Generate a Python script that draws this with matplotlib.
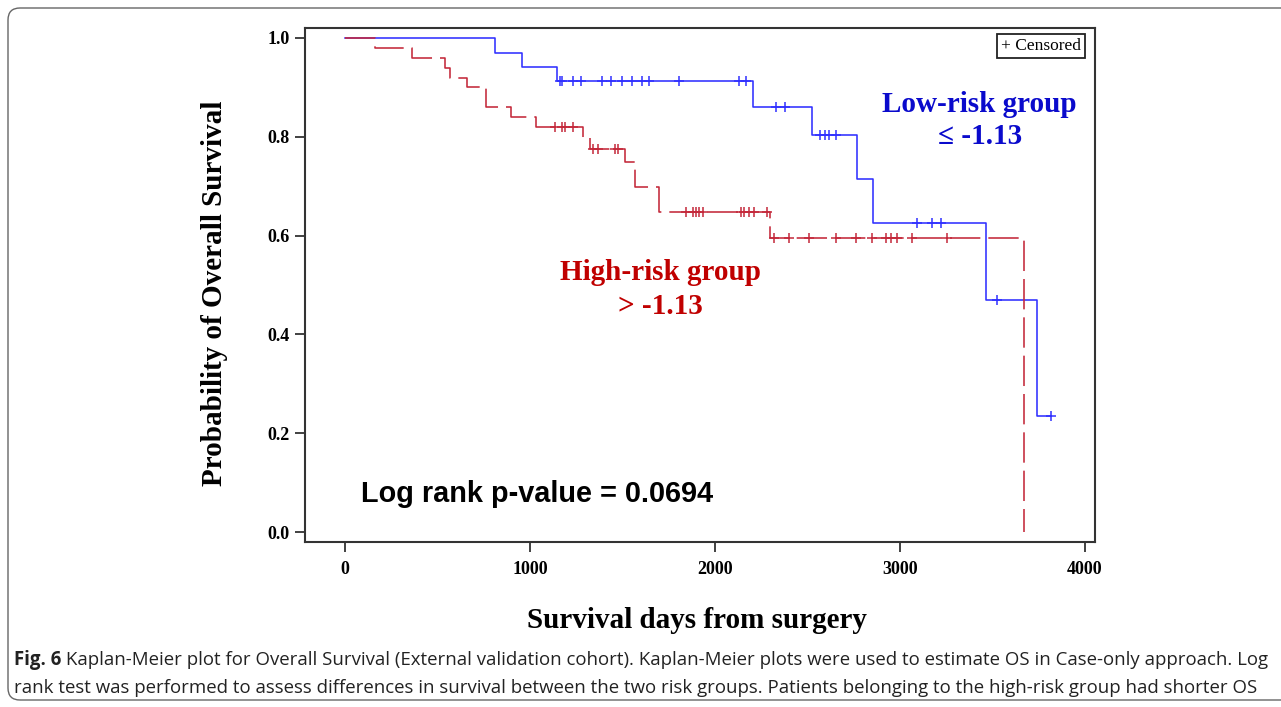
import matplotlib
matplotlib.use("Agg")
import matplotlib.pyplot as plt
import numpy as np
from matplotlib import font_manager
from matplotlib.patches import FancyBboxPatch
from matplotlib.transforms import IdentityTransform

# low-risk group (blue): KM steps
low_days = [0, 810, 955, 1144, 2208, 2526, 2769, 2856, 3466, 3741, 3816]
low_surv = [1.0, 0.970, 0.941, 0.913, 0.860, 0.804, 0.715, 0.626, 0.470, 0.235, 0.235]
low_censored = [1161, 1171, 1231, 1274, 1387, 1436, 1495, 1549, 1603, 1646, 1803,
                2132, 2165, 2332, 2381, 2569, 2596, 2618, 2656, 3093, 3174, 3223,
                3525, 3816]

# high-risk group (red, dashed)
high_days = [0, 162, 360, 540, 567, 659, 760, 900, 1030, 1285, 1323, 1511, 1565,
             1700, 2300, 3671]
high_surv = [1.0, 0.98, 0.96, 0.94, 0.92, 0.90, 0.86, 0.84, 0.82, 0.798, 0.775,
             0.749, 0.698, 0.647, 0.596, 0.0]
high_censored = [1134, 1171, 1187, 1231, 1339, 1366, 1457, 1474, 1846, 1879, 1900,
                 1916, 1933, 2143, 2159, 2186, 2213, 2283, 2321, 2402, 2510, 2656,
                 2764, 2850, 2926, 2953, 2985, 3066, 3255]

x_ticks = [0, 1000, 2000, 3000, 4000]
y_ticks = [0.0, 0.2, 0.4, 0.6, 0.8, 1.0]

caption_bold = "Fig. 6"
caption_1 = (" Kaplan-Meier plot for Overall Survival (External validation cohort). "
             "Kaplan-Meier plots were used to estimate OS in Case-only approach. Log")
caption_2 = ("rank test was performed to assess differences in survival between the two "
             "risk groups. Patients belonging to the high-risk group had shorter OS")

W, H = 1281, 707
BLUE = "#3030ff"
RED = "#c4283a"
SERIF = ["Liberation Serif", "DejaVu Serif"]

fig = plt.figure(figsize=(W / 100, H / 100), dpi=100)


def fx(px):
    return px / W


def fy(py):
    return 1 - py / H


def surv_at(days, surv, t):
    i = np.searchsorted(days, t, side="right") - 1
    return np.asarray(surv)[i]


ax = fig.add_axes([fx(305), fy(542), (1095 - 305) / W, (542 - 28) / H])

ax.step(low_days, low_surv, where="post", color=BLUE, lw=1.15)
ax.plot(low_censored, surv_at(low_days, low_surv, low_censored), ls="none",
        marker="+", ms=7, mew=1.1, color=BLUE)

ax.step(high_days, high_surv, where="post", color=RED, lw=1.15, ls=(0, (19, 5)))
ax.plot(high_censored, surv_at(high_days, high_surv, high_censored), ls="none",
        marker="+", ms=7, mew=1.1, color=RED)

ax.set_xlim(-216, 4054)
ax.set_ylim(-0.0202, 1.0202)
ax.set_xticks(x_ticks)
ax.set_yticks(y_ticks)
ax.set_xticklabels([str(v) for v in x_ticks], family=SERIF, weight="bold", fontsize=13)
ax.set_yticklabels([f"{v:.1f}" for v in y_ticks], family=SERIF, weight="bold", fontsize=13)
ax.tick_params(axis="both", direction="out", length=7, width=1.3, color="#333333")
ax.tick_params(axis="x", pad=7)
ax.tick_params(axis="y", pad=4)
for s in ax.spines.values():
    s.set_linewidth(1.5)
    s.set_color("#333333")

# axis titles
fig.text(fx(215), fy(293), "Probability of Overall Survival", rotation=90,
         ha="center", va="center", family=SERIF, weight="bold", fontsize=21)
fig.text(fx(697), fy(621), "Survival days from surgery", ha="center", va="center",
         family=SERIF, weight="bold", fontsize=21)

# group labels
fig.text(fx(979), fy(104), "Low-risk group", ha="center", va="center", color="#0a0acc",
         family=SERIF, weight="bold", fontsize=21)
fig.text(fx(980), fy(137), "\u2264 -1.13", ha="center", va="center", color="#0a0acc",
         family=SERIF, weight="bold", fontsize=21)
fig.text(fx(660), fy(273), "High-risk group", ha="center", va="center", color="#c00000",
         family=SERIF, weight="bold", fontsize=21)
fig.text(fx(660), fy(306), "> -1.13", ha="center", va="center", color="#c00000",
         family=SERIF, weight="bold", fontsize=21)

fig.text(fx(537), fy(494), "Log rank p-value = 0.0694", ha="center", va="center",
         family=["Liberation Sans", "DejaVu Sans"], weight="bold", fontsize=20.8)

# censored key box
fig.text(fx(1041), fy(46), "+ Censored", ha="center", va="center", family=SERIF,
         fontsize=12.5,
         bbox=dict(boxstyle="square,pad=0.25", fc="white", ec="#222222", lw=1.3))

# outer caption frame
frame = FancyBboxPatch((8, H - 700), 1300, 692, boxstyle="round,pad=0,rounding_size=12",
                       transform=IdentityTransform(), fill=False, ec="#666666", lw=1.0)
fig.patches.append(frame)

# caption text, sized to fill the line width
names = {f.name for f in font_manager.fontManager.ttflist}
cap_font = "Liberation Sans Narrow" if "Liberation Sans Narrow" in names else "Open Sans"
renderer = fig.canvas.get_renderer()
target = 1266 - 14
size = 13.0
for _ in range(3):
    tb = fig.text(fx(14), fy(660), caption_bold, family=cap_font, weight="bold",
                  fontsize=size, va="center", ha="left")
    wb = tb.get_window_extent(renderer).width
    t1 = fig.text(fx(14 + wb), fy(660), caption_1, family=cap_font, fontsize=size,
                  va="center", ha="left")
    w1 = t1.get_window_extent(renderer).width
    total = wb + w1
    tb.remove()
    t1.remove()
    size = size * target / total

tb = fig.text(fx(14), fy(660), caption_bold, family=cap_font, weight="bold",
              fontsize=size, va="center", ha="left", color="#222222")
wb = tb.get_window_extent(renderer).width
fig.text(fx(14 + wb), fy(660), caption_1, family=cap_font, fontsize=size,
         va="center", ha="left", color="#222222")
fig.text(fx(14), fy(688), caption_2, family=cap_font, fontsize=size,
         va="center", ha="left", color="#222222")

fig.savefig("out.png", dpi=100)
